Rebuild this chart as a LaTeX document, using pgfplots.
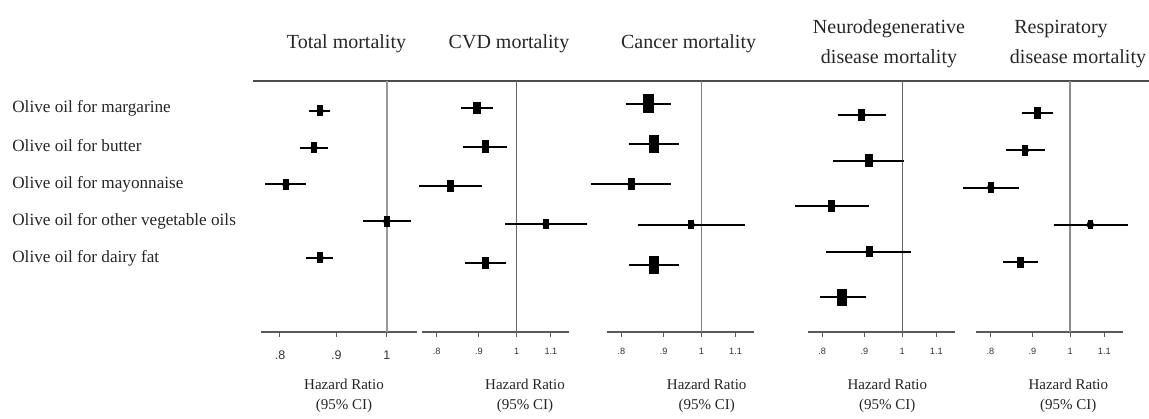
\documentclass[border=0pt]{standalone}
\usepackage{pgfplots}
\pgfplotsset{compat=1.18}
\usepackage{pgfplotstable}
\usepackage{fontspec}
\setmainfont{Liberation Serif}
\setsansfont{Liberation Sans}

% row = position of the estimate, hr = hazard ratio, lo/hi = 95% CI, ms = box half-height (pt)
\pgfplotstableread{
row hr lo hi ms
1 0.870 0.850 0.889 3.0
2 0.859 0.835 0.884 3.0
3 0.810 0.775 0.845 3.0
4 1.000 0.952 1.051 3.0
5 0.870 0.845 0.894 3.0
}\tabTotal
\pgfplotstableread{
row hr lo hi ms
1 0.895 0.855 0.937 3.5
2 0.916 0.860 0.974 3.5
3 0.832 0.762 0.908 3.3
4 1.085 0.968 1.218 2.7
5 0.916 0.866 0.971 3.5
}\tabCVD
\pgfplotstableread{
row hr lo hi ms
1 0.862 0.811 0.918 5.4
2 0.876 0.818 0.939 5.1
3 0.822 0.736 0.920 3.3
4 0.972 0.838 1.130 2.5
5 0.876 0.818 0.939 5.1
}\tabCancer
\pgfplotstableread{
row hr lo hi ms
1 0.894 0.836 0.955 3.3
2 0.912 0.825 1.006 3.5
3 0.822 0.741 0.911 3.3
4 0.912 0.808 1.026 3.2
5 0.846 0.796 0.903 4.8
}\tabNeuro
\pgfplotstableread{
row hr lo hi ms
1 0.912 0.874 0.953 3.2
2 0.882 0.837 0.932 3.0
3 0.801 0.742 0.866 3.0
4 1.058 0.957 1.175 2.4
5 0.870 0.829 0.914 3.0
}\tabResp

\pgfplotsset{
  every axis/.append style={
    scale only axis, height=150.6pt, anchor=north west,
    axis x line*=bottom, axis y line=none,
    x axis line style={-, line width=1pt, black!65},
    tick style={black!65, line width=0.6pt},
    xtick align=outside, major tick length=3pt,
    y dir=reverse, clip=false,
  },
}
\newcommand{\ciplot}[1]{%
  \addplot[black, only marks, mark=none,
    error bars/.cd, x dir=both, x explicit, error mark=none,
    error bar style={line width=1.2pt, black}]
   table[x=hr, y=row,
   x error plus expr=\thisrow{hi}-\thisrow{hr},
   x error minus expr=\thisrow{hr}-\thisrow{lo}] {#1};
}
\newcommand{\hrbox}[1]{%
  \addplot[black, scatter, only marks, mark=square*,
    mark options={xscale=0.55, line width=0pt, draw=black, fill=black},
    scatter/use mapped color={draw=black, fill=black},
    visualization depends on={\thisrow{ms} \as \perpointmarksize},
    scatter/@pre marker code/.append style={/tikz/mark size=\perpointmarksize}]
   table[x=hr, y=row] {#1};
}

\begin{document}
\begin{tikzpicture}
\begin{scope}[x=0.6pt,y=-0.6pt]
\path[use as bounding box] (0,0) rectangle (1149,418);
\draw[line width=1.2pt, black!70] (253,81) -- (1149,81);
\end{scope}

\begin{axis}[xmode=log, at={(156.6pt,-48.6pt)}, width=93.6pt,
  xmin=0.769, xmax=1.065, ymin=0.184, ymax=7.014,
  xtick={0.8,0.9,1}, xticklabels={.8,.9,1},
  ticklabel style={font=\sffamily\fontsize{7.5}{8}\selectfont, text=black!80, yshift=-5pt}]
\draw[black!40, line width=1.1pt] (axis cs:1,0.184) -- (axis cs:1,7.014);
\ciplot{\tabTotal}
\hrbox{\tabTotal}
\end{axis}

\begin{axis}[xmode=log, at={(253.2pt,-48.6pt)}, width=88.2pt,
  xmin=0.768, xmax=1.157, ymin=0.303, ymax=6.781,
  xtick={0.8,0.9,1,1.1}, xticklabels={.8,.9,1,1.1},
  ticklabel style={font=\sffamily\fontsize{5.5}{6}\selectfont, text=black!80, yshift=-3pt}]
\draw[black!60, line width=0.6pt] (axis cs:1,0.303) -- (axis cs:1,6.781);
\ciplot{\tabCVD}
\hrbox{\tabCVD}
\end{axis}

\begin{axis}[xmode=log, at={(364.0pt,-48.6pt)}, width=88.2pt,
  xmin=0.768, xmax=1.157, ymin=0.429, ymax=6.665,
  xtick={0.8,0.9,1,1.1}, xticklabels={.8,.9,1,1.1},
  ticklabel style={font=\sffamily\fontsize{5.5}{6}\selectfont, text=black!80, yshift=-3pt}]
\draw[black!50, line width=0.8pt] (axis cs:1,0.429) -- (axis cs:1,6.665);
\ciplot{\tabCancer}
\hrbox{\tabCancer}
\end{axis}

\begin{axis}[xmode=log, at={(485.0pt,-48.6pt)}, width=88.2pt,
  xmin=0.770, xmax=1.160, ymin=0.253, ymax=5.769,
  xtick={0.8,0.9,1,1.1}, xticklabels={.8,.9,1,1.1},
  ticklabel style={font=\sffamily\fontsize{5.5}{6}\selectfont, text=black!80, yshift=-3pt}]
\draw[black!60, line width=0.6pt] (axis cs:1,0.253) -- (axis cs:1,5.769);
\ciplot{\tabNeuro}
\hrbox{\tabNeuro}
\end{axis}

\begin{axis}[xmode=log, at={(585.4pt,-48.6pt)}, width=88.2pt,
  xmin=0.768, xmax=1.158, ymin=0.141, ymax=6.879,
  xtick={0.8,0.9,1,1.1}, xticklabels={.8,.9,1,1.1},
  ticklabel style={font=\sffamily\fontsize{5.5}{6}\selectfont, text=black!80, yshift=-3pt}]
\draw[black!45, line width=0.9pt] (axis cs:1,0.141) -- (axis cs:1,6.879);
\ciplot{\tabResp}
\hrbox{\tabResp}
\end{axis}

\begin{scope}[x=0.6pt,y=-0.6pt, every node/.style={text=black!85, inner sep=0pt}]
\begin{scope}[every node/.append style={font=\fontsize{10.3}{12}\selectfont, anchor=west}]
\node at (12,108) {Olive oil for margarine};
\node at (12,146) {Olive oil for butter};
\node at (12,184) {Olive oil for mayonnaise};
\node at (12,221) {Olive oil for other vegetable oils};
\node at (12,258) {Olive oil for dairy fat};
\end{scope}
\begin{scope}[every node/.append style={font=\fontsize{12}{14}\selectfont}]
\node at (346.5,44) {Total mortality};
\node at (509,44) {CVD mortality};
\node at (688.6,44) {Cancer mortality};
\node at (889,29) {Neurodegenerative};
\node at (889,59) {disease mortality};
\node at (1061,29) {Respiratory};
\node at (1078,59) {disease mortality};
\end{scope}
\begin{scope}[every node/.append style={font=\fontsize{9}{10}\selectfont}]
\foreach \cx in {344,525,706.7,887.3,1068.3}{
  \node at (\cx,384) {Hazard Ratio};
  \node at (\cx,406) {(95\% CI)};
}
\end{scope}
\end{scope}
\end{tikzpicture}
\end{document}
